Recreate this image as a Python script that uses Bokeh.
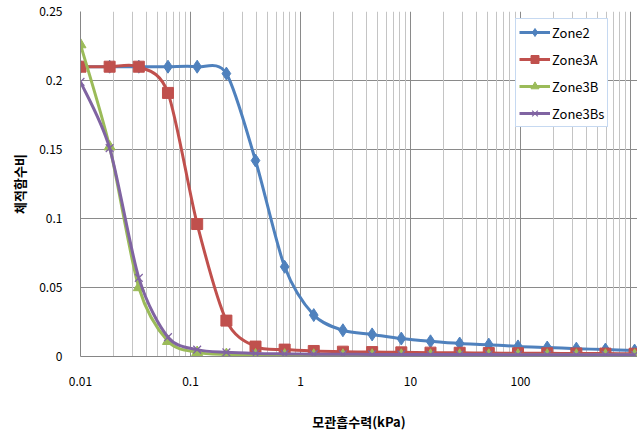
import numpy as np
from bokeh.plotting import figure
from bokeh.models import (Range1d, FixedTicker, Grid, Legend, LegendItem,
                          ColumnDataSource, CustomJSTickFormatter)
from bokeh.embed import file_html
from bokeh.resources import INLINE

# ---- data ----
suction_kpa = [0.0100, 0.0184, 0.0339, 0.0624, 0.115, 0.212, 0.390, 0.718,
               1.32, 2.43, 4.48, 8.25, 15.2, 28.0, 51.5, 94.9, 175, 322, 592, 1090]
zone2 = [0.210, 0.210, 0.210, 0.210, 0.210, 0.205, 0.142, 0.065, 0.030, 0.019,
         0.016, 0.013, 0.011, 0.0094, 0.0086, 0.0073, 0.0065, 0.0057, 0.0050, 0.0043]
zone3a = [0.210, 0.210, 0.210, 0.191, 0.096, 0.026, 0.0072, 0.0050, 0.0040, 0.0035,
          0.0032, 0.0030, 0.0028, 0.0027, 0.0025, 0.0024, 0.0023, 0.0022, 0.0021, 0.0020]
zone3b = [0.226, 0.152, 0.050, 0.011, 0.0030, 0.0015, 0.0012, 0.0011, 0.0010, 0.0010,
          0.0010, 0.0010, 0.0010, 0.0010, 0.0010, 0.0010, 0.0010, 0.0010, 0.0010, 0.0010]
zone3bs = [0.199, 0.151, 0.057, 0.014, 0.0050, 0.0030, 0.0022, 0.0019, 0.0017, 0.0016,
           0.0015, 0.0015, 0.0014, 0.0014, 0.0014, 0.0013, 0.0013, 0.0013, 0.0013, 0.0013]

series_names = ["Zone2", "Zone3A", "Zone3B", "Zone3Bs"]
series_values = [zone2, zone3a, zone3b, zone3bs]
series_colors = ["#4F81BD", "#C0504D", "#9BBB59", "#8064A2"]
series_markers = ["diamond", "square", "triangle", "x"]
series_sizes = [13, 11, 11, 11]

x_tick_values = [0.01, 0.1, 1, 10, 100]
x_tick_labels = ["0.01", "0.1", "1", "10", "100"]
y_tick_values = [0, 0.05, 0.1, 0.15, 0.2, 0.25]
y_tick_labels = ["0", "0.05", "0.1", "0.15", "0.2", "0.25"]

x_label = "모관흡수력(kPa)"
y_label = "체적함수비"

FONT = "Noto Sans CJK KR"
SMOOTH = 1.0 / 7.0


def smooth_source(xs, ys):
    """Bezier control points (Catmull-Rom style, like Excel's smoothed line),
    computed in log10(x) / linear y space."""
    P = np.column_stack([np.log10(np.asarray(xs, float)), np.asarray(ys, float)])
    n = len(P)
    d = {k: [] for k in ["x0", "y0", "x1", "y1", "cx0", "cy0", "cx1", "cy1"]}
    for i in range(n - 1):
        p0, p1, p2, p3 = P[max(i - 1, 0)], P[i], P[i + 1], P[min(i + 2, n - 1)]
        c1 = p1 + (p2 - p0) * SMOOTH
        c2 = p2 - (p3 - p1) * SMOOTH
        d["x0"].append(10 ** p1[0]); d["y0"].append(p1[1])
        d["x1"].append(10 ** p2[0]); d["y1"].append(p2[1])
        d["cx0"].append(10 ** c1[0]); d["cy0"].append(c1[1])
        d["cx1"].append(10 ** c2[0]); d["cy1"].append(c2[1])
    return ColumnDataSource(d)


p = figure(width=637, height=439, x_axis_type="log",
           x_range=Range1d(0.01, 1158), y_range=Range1d(0, 0.25),
           output_backend="svg", toolbar_location=None,
           min_border_left=80, min_border_right=0, min_border_top=11,
           min_border_bottom=83)
p.outline_line_color = None
p.background_fill_color = "white"
p.border_fill_color = "white"

# grids
GRID_MAJOR = "#8a8a8a"
GRID_MINOR = "#c4c4c4"
p.ygrid.ticker = FixedTicker(ticks=y_tick_values)
p.ygrid.grid_line_color = GRID_MAJOR
p.ygrid.grid_line_width = 1
p.xgrid.ticker = FixedTicker(ticks=x_tick_values + [1000])
p.xgrid.grid_line_color = GRID_MAJOR
minor_ticks = [k * 10.0 ** e for e in range(-2, 3) for k in range(2, 10)]
p.add_layout(Grid(dimension=0, ticker=FixedTicker(ticks=minor_ticks),
                  grid_line_color=GRID_MINOR, grid_line_width=1))

# axes
xa = p.xaxis[0]
xa.ticker = FixedTicker(ticks=x_tick_values, minor_ticks=[])
xa.major_label_overrides = {v: s for v, s in zip(x_tick_values, x_tick_labels)}
xa.formatter = CustomJSTickFormatter(code="return String(tick);")
ya = p.yaxis[0]
ya.ticker = FixedTicker(ticks=y_tick_values, minor_ticks=[])
ya.major_label_overrides = {v: s for v, s in zip(y_tick_values, y_tick_labels)}
for ax in (xa, ya):
    ax.axis_line_color = "#868686"
    ax.major_tick_line_color = None
    ax.minor_tick_line_color = None
    ax.major_tick_out = 0
    ax.major_tick_in = 0
    ax.major_label_text_font = FONT
    ax.major_label_text_font_size = "12px"
    ax.major_label_text_color = "#000000"
    ax.axis_label_text_font = FONT
    ax.axis_label_text_font_size = "13px"
    ax.axis_label_text_font_style = "bold"
    ax.axis_label_text_color = "#000000"
xa.major_label_standoff = 20
xa.axis_label = x_label
xa.axis_label_standoff = 23
ya.major_label_standoff = 18
ya.axis_label = y_label
ya.axis_label_standoff = 7

items = []
for name, vals, col, mk, sz in zip(series_names, series_values, series_colors,
                                     series_markers, series_sizes):
    r_line = p.bezier(x0="x0", y0="y0", x1="x1", y1="y1", cx0="cx0", cy0="cy0",
                      cx1="cx1", cy1="cy1", source=smooth_source(suction_kpa, vals),
                      line_color=col, line_width=3)
    if mk == "x":
        r_pts = p.scatter(suction_kpa, vals, marker=mk, size=sz, line_color=col,
                          line_width=1.2)
    else:
        r_pts = p.scatter(suction_kpa, vals, marker=mk, size=sz, fill_color=col,
                          line_color=col)
    items.append(LegendItem(label=name, renderers=[r_line, r_pts]))

legend = Legend(items=items, location=(435, 229), orientation="vertical",
                label_text_font=FONT, label_text_font_size="13px",
                label_text_color="#000000",
                glyph_width=31, glyph_height=20, label_height=20,
                label_standoff=2, spacing=7, padding=3, margin=0,
                border_line_color="#8eb4e3", border_line_width=1,
                background_fill_color="white", background_fill_alpha=1.0)
p.add_layout(legend)

open("out.html", "w").write(file_html(p, INLINE))
